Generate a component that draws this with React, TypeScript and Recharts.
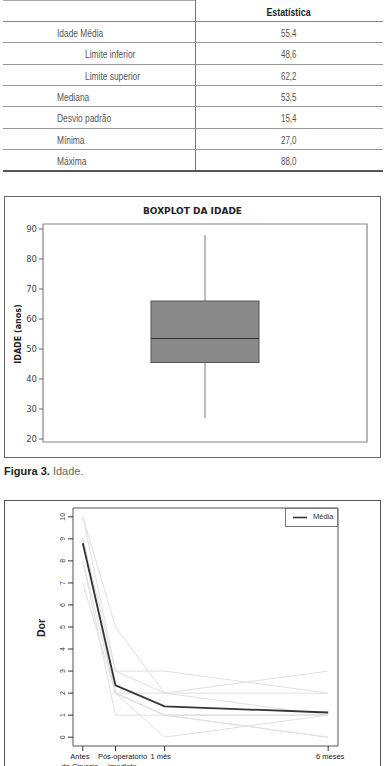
import React from 'react';
import { ComposedChart, Bar, XAxis, YAxis, ReferenceArea, LineChart, Line, Legend } from 'recharts';

// ---------- Table data ----------
const statHeader = 'Estatística';
const statLabels = ['Idade Média', 'Limite inferior', 'Limite superior', 'Mediana', 'Desvio padrão', 'Mínima', 'Máxima'];
const statValues = ['55,4', '48,6', '62,2', '53,5', '15,4', '27,0', '88,0'];

// ---------- Boxplot data ----------
const boxCategories = ['IDADE'];
const boxMin = [27];
const boxQ1 = [45.5];
const boxMedian = [53.5];
const boxQ3 = [66];
const boxMax = [88];
const boxTicks = [20, 30, 40, 50, 60, 70, 80, 90];

// ---------- Pain line chart data ----------
const timeLabels = [['Antes', 'da Cirurgia'], ['Pós-operatório', 'imediato'], ['1 mês'], ['6 meses']];
const timePositions = [1, 2, 3.5, 8.5];
const painTicks = [0, 1, 2, 3, 4, 5, 6, 7, 8, 9, 10];
const meanPain = [8.8, 2.35, 1.4, 1.12];
const patient1 = [10, 5, 2, 1];
const patient2 = [10, 3, 3, 2];
const patient3 = [9, 3, 2, 3];
const patient4 = [9, 2, 2, 2];
const patient5 = [9, 2, 0, 1];
const patient6 = [8, 2, 1, 0];
const patient7 = [8, 1, 1, 1];
const patient8 = [7, 2, 1, 1];
const patient9 = [9, 2, 1, 1];
const patient10 = [9, 2, 1, 0];
const patients = [patient1, patient2, patient3, patient4, patient5, patient6, patient7, patient8, patient9, patient10];

// style: small horizontal nudges of the x tick labels (as in the original print)
const tickLabelNudge = [-3, 7, -4, 2];

const boxData = boxCategories.map((name, i) => ({
  name,
  box: [boxQ1[i], boxQ3[i]],
  q1: boxQ1[i],
  q3: boxQ3[i],
  median: boxMedian[i],
  min: boxMin[i],
  max: boxMax[i],
}));

const painData = timePositions.map((t, i) => {
  const row: any = { t, mean: meanPain[i] };
  patients.forEach((p, j) => {
    row['p' + (j + 1)] = p[i];
  });
  return row;
});

const BoxShape = (props: any) => {
  const { x, y, width, height, payload } = props;
  const top = Math.min(y, y + height);
  const h = Math.abs(height);
  const k = h / (payload.q3 - payload.q1);
  const py = (v: number) => top + (payload.q3 - v) * k;
  const cx = x + width / 2;
  return (
    <g>
      <line x1={cx} x2={cx} y1={py(payload.max)} y2={top} stroke="#7a7a7a" strokeWidth={1} />
      <line x1={cx} x2={cx} y1={top + h} y2={py(payload.min)} stroke="#7a7a7a" strokeWidth={1} />
      <rect x={x} y={top} width={width} height={h} fill="#8a8a8a" stroke="#555" strokeWidth={1} />
      <line x1={x} x2={x + width} y1={py(payload.median)} y2={py(payload.median)} stroke="#333" strokeWidth={1.2} />
    </g>
  );
};

const PainTick = (props: any) => {
  const { x, y, payload } = props;
  const bx = x - 1;
  return (
    <text x={bx} y={y} transform={`rotate(-90 ${bx} ${y})`} textAnchor="middle" fontSize={7} fill="#333"
      fontFamily="'Liberation Sans', Arial, sans-serif">
      {payload.value}
    </text>
  );
};

const TimeTick = (props: any) => {
  const { x, y, payload } = props;
  const idx = timePositions.indexOf(payload.value);
  const lines = idx >= 0 ? timeLabels[idx] : [];
  const tx = x + (idx >= 0 ? tickLabelNudge[idx] : 0);
  return (
    <text x={tx} y={y} textAnchor="middle" fontSize={7.5} fill="#222" fontFamily="'Liberation Sans', Arial, sans-serif">
      {lines.map((l, i) => (
        <tspan key={i} x={tx} dy={i === 0 ? 6 : 9.5}>{l}</tspan>
      ))}
    </text>
  );
};

const LegendBox = () => (
  <div style={{ width: 53, height: 19, border: '1px solid #777', boxSizing: 'border-box', position: 'relative', background: '#fff' }}>
    <svg width={22} height={17} style={{ position: 'absolute', left: 0, top: 0 }}>
      <line x1={7} x2={21} y1={8.5} y2={8.5} stroke="#333" strokeWidth={1.6} />
    </svg>
    <span style={{ position: 'absolute', left: 27, top: 3, fontSize: 7.5, color: '#333', fontFamily: "'Liberation Sans', Arial, sans-serif" }}>Média</span>
  </div>
);

const tableFont = "'Liberation Sans', Arial, sans-serif";

const Condensed = ({ children, origin, bold, size }: any) => (
  <span style={{ display: 'inline-block', transform: 'scaleX(0.8)', transformOrigin: origin, fontWeight: bold ? 'bold' : 'normal', fontSize: size, whiteSpace: 'nowrap' }}>
    {children}
  </span>
);

export default function App() {
  const rowH = 21.3;
  const headerH = 21;
  return (
    <div style={{ position: 'fixed', left: 0, top: 0, width: 386, height: 766, overflow: 'hidden', background: '#fff' }}>
      {/* Table */}
      <div style={{ position: 'absolute', left: 3, top: 0, width: 192, height: 1, background: '#aaa' }} />
      <div style={{ position: 'absolute', left: 195, top: 0, width: 1, height: 170, background: '#777' }} />
      <div style={{ position: 'absolute', left: 195, width: 188, top: 0, height: headerH, lineHeight: headerH + 'px', textAlign: 'center', fontFamily: tableFont, color: '#222' }}>
        <Condensed origin="center" bold size={11}>{statHeader}</Condensed>
      </div>
      <div style={{ position: 'absolute', left: 3, width: 380, top: headerH, height: 1, background: '#888' }} />
      {statLabels.map((lab, i) => {
        const top = headerH + i * rowH;
        const indent = lab.startsWith('Limite');
        const last = i === statLabels.length - 1;
        return (
          <React.Fragment key={lab}>
            <div style={{ position: 'absolute', left: indent ? 85 : 57, top, height: rowH, lineHeight: rowH + 'px', fontFamily: tableFont, color: '#555' }}>
              <Condensed origin="left center" size={10.5}>{lab}</Condensed>
            </div>
            <div style={{ position: 'absolute', left: 195, width: 188, top, height: rowH, lineHeight: rowH + 'px', textAlign: 'center', fontFamily: tableFont, color: '#555' }}>
              <Condensed origin="center" size={10}>{statValues[i]}</Condensed>
            </div>
            <div style={{ position: 'absolute', left: 3, width: 380, top: top + rowH, height: last ? 1.5 : 1, background: last ? '#555' : '#999' }} />
          </React.Fragment>
        );
      })}

      {/* Boxplot */}
      <div style={{ position: 'absolute', left: 4, top: 196, width: 377, height: 262, border: '1px solid #666', boxSizing: 'border-box' }} />
      <div style={{ position: 'absolute', left: 4, top: 196 }}>
        <ComposedChart width={377} height={262} data={boxData} margin={{ top: 28, right: 14, bottom: 16, left: 0 }}>
          <XAxis dataKey="name" hide />
          <YAxis type="number" domain={[19, 91.67]} ticks={boxTicks} width={39} axisLine={false}
            tickSize={4} tickLine={{ stroke: '#666' }}
            tick={{ fill: '#444', fontSize: 8.5, fontFamily: "'DejaVu Sans', sans-serif" }} interval={0} />
          <ReferenceArea y1={19} y2={91.67} fill="none" stroke="#888" strokeWidth={1.2} ifOverflow="extendDomain" />
          <Bar dataKey="box" barSize={108} shape={BoxShape} isAnimationActive={false} />
        </ComposedChart>
      </div>
      <div style={{ position: 'absolute', left: 4, width: 377, top: 206, textAlign: 'center', fontFamily: "'DejaVu Sans', sans-serif", fontWeight: 'bold', fontSize: 9, color: '#222' }}>
        BOXPLOT DA IDADE
      </div>
      <div style={{ position: 'absolute', left: 19 - 40, top: 334 - 6, width: 80, height: 12, lineHeight: '12px', textAlign: 'center', transform: 'rotate(-90deg)', fontFamily: "'DejaVu Sans', sans-serif", fontWeight: 'bold', fontSize: 8, color: '#222' }}>
        IDADE (anos)
      </div>

      {/* Caption */}
      <div style={{ position: 'absolute', left: 4, top: 465, fontFamily: "'Liberation Sans', Arial, sans-serif", fontSize: 11, color: '#222', whiteSpace: 'nowrap' }}>
        <b>Figura 3.</b> <span style={{ color: '#666' }}>Idade.</span>
      </div>

      {/* Pain chart */}
      <div style={{ position: 'absolute', left: 4, top: 500, width: 377, height: 300, border: '1px solid #555', boxSizing: 'border-box' }} />
      <div style={{ position: 'absolute', left: 4, top: 500 }}>
        <LineChart width={377} height={266} data={painData} margin={{ top: 8, right: 43, bottom: 0, left: 0 }}>
          <XAxis dataKey="t" type="number" domain={[0.7, 8.8]} ticks={timePositions} interval={0} allowDataOverflow
            axisLine={false} tickSize={5} tickLine={{ stroke: '#333' }} tick={TimeTick} height={20} />
          <YAxis type="number" domain={[-0.4, 10.4]} ticks={painTicks} interval={0} allowDataOverflow width={69}
            axisLine={false} tickSize={5} tickLine={{ stroke: '#333' }} tick={PainTick} />
          <ReferenceArea x1={0.7} x2={8.8} y1={-0.4} y2={10.4} fill="none" stroke="#555" strokeWidth={1} />
          {patients.map((_, j) => (
            <Line key={j} type="linear" dataKey={'p' + (j + 1)} stroke="#e0e0e0" strokeWidth={1} dot={false} isAnimationActive={false} legendType="none" />
          ))}
          <Line type="linear" dataKey="mean" name="Média" stroke="#333" strokeWidth={1.8} dot={false} isAnimationActive={false} />
          <Legend layout="vertical" align="center" verticalAlign="middle" content={LegendBox}
            wrapperStyle={{ position: 'absolute', left: 281, top: 8, width: 53, height: 19 }} />
        </LineChart>
      </div>
      <div style={{ position: 'absolute', left: 41 - 20, top: 628 - 7, width: 40, height: 14, lineHeight: '14px', textAlign: 'center', transform: 'rotate(-90deg)', fontFamily: "'Liberation Sans', Arial, sans-serif", fontWeight: 'bold', fontSize: 10.5, color: '#222' }}>
        Dor
      </div>
    </div>
  );
}
